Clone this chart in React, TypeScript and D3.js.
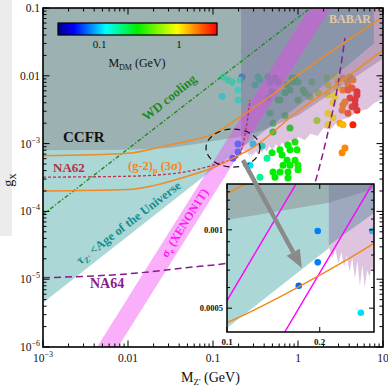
import * as d3 from "d3";

type Pt = [number, number];

// boundaries, as (M_Z' [GeV], g_X)
const tealEdge: Pt[] = [[1e-3, 4.5e-6], [0.1, 4.2e-4], [0.214, 8.5e-4]];
const ccfrEdge: Pt[] = [[1e-3, 8.0e-4], [0.01, 8.1e-4], [0.03, 8.6e-4], [0.07, 1.0e-3], [0.1, 1.09e-3], [0.214, 1.27e-3], [0.4, 1.6e-3], [1, 2.6e-3], [3, 6.5e-3], [10, 0.018]];
const babarEdge: Pt[] = [[0.214, 8.7e-4], [0.3, 1.16e-3], [0.5, 1.9e-3], [1, 3.6e-3], [3, 0.011], [7.8, 0.03]];
const lavEdge: Pt[] = [
    [0.214, 8.6e-4], [0.22, 7.8e-4], [0.225, 8.4e-4], [0.23, 7.4e-4], [0.235, 8.2e-4], [0.24, 7.2e-4],
    [0.245, 8.0e-4], [0.25, 6.9e-4], [0.255, 7.8e-4], [0.26, 6.5e-4], [0.265, 7.6e-4], [0.27, 6.1e-4],
    [0.275, 7.3e-4], [0.28, 6.0e-4], [0.285, 7.0e-4], [0.29, 6.6e-4], [0.295, 7.2e-4], [0.3, 6.8e-4],
    [0.32, 7.8e-4], [0.34, 6.9e-4], [0.36, 8.2e-4], [0.38, 7.2e-4], [0.4, 8.6e-4], [0.43, 7.5e-4],
    [0.46, 9.2e-4], [0.5, 8.0e-4], [0.55, 9.8e-4], [0.6, 8.6e-4], [0.65, 1.05e-3], [0.7, 9.2e-4],
    [0.8, 1.12e-3], [0.9, 1.0e-3], [1.0, 1.25e-3], [1.2, 1.12e-3], [1.4, 1.4e-3], [1.7, 1.3e-3],
    [2.0, 1.7e-3], [2.4, 1.6e-3], [3.0, 2.2e-3], [4.0, 2.4e-3], [5.0, 3.0e-3], [6.5, 3.2e-3],
    [8.0, 4.0e-3], [10, 4.6e-3]
];
const xenonHi: Pt[] = [[1.37e-3, 1e-7], [4.32, 1]];
const xenonLo: Pt[] = [[2.42e-3, 1e-7], [7.65, 1]];
const wdLine: Pt[] = [[1e-3, 9e-5], [1.4, 0.1]];
const gm2Hi: Pt[] = [[1e-3, 6.6e-4], [0.01, 7.2e-4], [0.03, 9.5e-4], [0.07, 1.2e-3], [0.1, 1.38e-3], [0.2, 2.4e-3], [0.5, 5.3e-3], [1, 0.0103], [3, 0.027], [10, 0.074]];
const gm2Lo: Pt[] = [[1e-3, 2.0e-4], [0.01, 2.1e-4], [0.02, 2.4e-4], [0.05, 3.3e-4], [0.1, 4.4e-4], [0.2, 6.7e-4], [0.3, 8.9e-4], [1, 3.0e-3], [3, 7.8e-3], [10, 0.024]];
const na62: Pt[] = [[1e-3, 3.2e-4], [0.01, 3.3e-4], [0.04, 3.7e-4], [0.1, 4.8e-4], [0.15, 5.6e-4], [0.2, 6.5e-4], [0.23, 1.1e-3], [0.255, 2.3e-3], [0.272, 4.4e-3]];
const na64: Pt[] = [[1e-3, 1.05e-5], [0.01, 1.2e-5], [0.07, 1.55e-5], [0.14, 1.7e-5], [0.5, 2.4e-5], [1.0, 5e-5], [1.3, 1.2e-4], [1.58, 2.6e-4], [2.38, 2.0e-3], [2.88, 6.2e-3], [3.57, 0.036]];

// scan points: M_Z', g_X, M_DM
const dots: [number, number, number][] = [
    [0.131, 9.6e-3, 0.15], [0.150, 8.7e-3, 0.15], [0.168, 8.1e-3, 0.15], [0.219, 9.6e-3, 0.065],
    [0.208, 8.7e-3, 0.14], [0.197, 6.2e-3, 0.12], [0.128, 5.0e-3, 0.11], [0.197, 4.4e-3, 0.13],
    [0.338, 9.6e-3, 0.17], [0.357, 8.7e-3, 0.17], [0.312, 7.3e-3, 0.16], [0.443, 9.6e-3, 0.2],
    [0.536, 9.3e-3, 0.2], [0.582, 8.1e-3, 0.22], [0.469, 7.8e-3, 0.17], [0.494, 5.8e-3, 0.2],
    [0.443, 4.7e-3, 0.16], [0.582, 4.4e-3, 0.25], [0.743, 7.3e-3, 0.3], [0.849, 9.3e-3, 0.3],
    [0.922, 9.3e-3, 0.32], [0.873, 8.1e-3, 0.3], [1.0, 8.1e-3, 0.33], [0.805, 6.2e-3, 0.3],
    [0.703, 5.6e-3, 0.3], [0.614, 4.4e-3, 0.3], [1.15, 6.2e-3, 0.35], [1.21, 5.6e-3, 0.38],
    [1.46, 8.1e-3, 0.45], [1.38, 4.9e-3, 0.42], [1.72, 5.6e-3, 0.6], [1.0, 4.4e-3, 0.35],
    [2.19, 9.3e-3, 0.6], [2.25, 7.3e-3, 0.7], [2.72, 9.6e-3, 0.95], [2.96, 8.1e-3, 1.1],
    [3.38, 9.3e-3, 1.4], [3.77, 8.7e-3, 1.5], [4.09, 9.6e-3, 1.6], [4.43, 8.7e-3, 1.6],
    [3.87, 7.3e-3, 1.6], [2.88, 6.8e-3, 0.95], [2.25, 5.2e-3, 0.9], [2.72, 4.9e-3, 0.95],
    [3.38, 6.2e-3, 1.6], [4.32, 6.6e-3, 2.0], [4.94, 5.8e-3, 2.6], [4.09, 4.7e-3, 2.4],
    [4.69, 4.4e-3, 2.6], [3.57, 4.1e-3, 1.6], [2.58, 4.0e-3, 0.95], [3.30, 3.1e-3, 1.6],
    [4.32, 3.5e-3, 2.4], [4.94, 3.1e-3, 2.6], [2.25, 2.8e-3, 0.95], [2.58, 2.4e-3, 0.95],
    [3.12, 2.0e-3, 1.4], [4.43, 1.9e-3, 2.6], [0.703, 2.6e-3, 0.3], [0.469, 2.8e-3, 0.22],
    [0.805, 1.7e-3, 0.3], [0.197, 9.9e-4, 0.075], [0.197, 7.5e-4, 0.075], [0.171, 6.1e-4, 0.07],
    [0.296, 9.9e-4, 0.105], [0.377, 9.2e-4, 0.15], [0.272, 4.8e-4, 0.105], [0.432, 6.1e-4, 0.17],
    [0.357, 3.2e-4, 0.18], [0.508, 2.0e-3, 0.28], [0.508, 1.48e-3, 0.28], [0.494, 7.3e-4, 0.28],
    [0.508, 3.8e-4, 0.3], [0.536, 3.2e-4, 0.3], [0.614, 8.1e-4, 0.3], [0.649, 6.8e-4, 0.3],
    [0.762, 9.5e-4, 0.3], [0.805, 8.1e-4, 0.3], [0.922, 1.06e-3, 0.32], [0.973, 8.1e-4, 0.32],
    [0.743, 5.7e-4, 0.3], [0.922, 5.7e-4, 0.32], [0.667, 4.8e-4, 0.3], [0.805, 4.8e-4, 0.3],
    [1.0, 4.8e-4, 0.33], [0.614, 3.8e-4, 0.3], [0.762, 3.8e-4, 0.3], [0.762, 3.1e-4, 0.3],
    [1.0, 4.1e-4, 0.33], [1.67, 2.2e-3, 0.6], [2.25, 1.9e-3, 0.95], [3.38, 1.9e-3, 1.3],
    [3.57, 8.6e-4, 1.6], [3.30, 7.3e-4, 1.6], [2.72, 5.2e-3, 0.95], [3.38, 3.7e-3, 1.6],
    [3.87, 2.8e-3, 2.0], [4.69, 3.7e-3, 2.6], [4.94, 5.2e-3, 2.6], [3.87, 6.2e-3, 2.0]
];

const xTicks = [1e-3, 0.01, 0.1, 1, 10];
const xTickLabels = ["10^-3", "0.01", "0.1", "1", "10"];
const yTicks = [1e-6, 1e-5, 1e-4, 1e-3, 0.01, 0.1];
const yTickLabels = ["10^-6", "10^-5", "10^-4", "10^-3", "0.01", "0.1"];
const cbDomain = [0.03, 3];
const cbTicks = [0.1, 1];
const cbTickLabels = ["0.1", "1"];
const insetXTicks = [0.1, 0.2];
const insetXLabels = ["0.1", "0.2"];
const insetYTicks = [5e-4, 1e-3];
const insetYLabels = ["0.0005", "0.001"];
const insetYMinor = [5e-4, 6e-4, 7e-4, 8e-4, 9e-4, 1e-3, 1.1e-3, 1.2e-3, 1.3e-3, 1.4e-3];
// zoom annotation
const zoomCenter: Pt = [0.172, 8.6e-4];
const zoomArrow: Pt[] = [[0.225, 5.7e-4], [1.11, 1.46e-5]];

const F = "'Liberation Serif', 'DejaVu Serif', serif";

const cmap = d3.scaleLinear<string>()
    .domain([0, 0.1, 0.3, 0.5, 0.75, 0.9, 1])
    .range(["#00008b", "#0000ff", "#00ffff", "#00ee00", "#ffff00", "#ff6000", "#ff0000"]);
const cpos = d3.scaleLog().domain(cbDomain).range([0, 1]).clamp(true);
const dmColor = (m: number) => cmap(cpos(m));

const isPow10 = (v: number) => Math.abs(Math.log10(v) - Math.round(Math.log10(v))) < 1e-6;
const closeTop = (edge: Pt[]): Pt[] => [...edge, [edge[edge.length - 1][0], 1], [edge[0][0], 1]];

const Pow = ({ label }: { label: string }) => {
    if (!label.startsWith("10^")) return <>{label}</>;
    return <>10<tspan dy={-5} fontSize={8}>{"\u2212" + label.slice(4)}</tspan></>;
};

interface LayerProps {
    sx: d3.ScaleLogarithmic<number, number>;
    sy: d3.ScaleLogarithmic<number, number>;
    inset?: boolean;
}

// shaded regions, points and curves; shared by the main panel and the zoom
function Layers({ sx, sy, inset = false }: LayerProps) {
    const line = d3.line<Pt>().x(d => sx(d[0])).y(d => sy(d[1]));
    const smooth = d3.line<Pt>().x(d => sx(d[0])).y(d => sy(d[1])).curve(d3.curveMonotoneX);
    const band = [...xenonHi, ...[...xenonLo].reverse()];
    const r = inset ? 3.3 : 3.5;
    return (
        <g>
            <path d={line(closeTop(tealEdge)) + "Z"} fill="#abd7d7" />
            {dots.map((d, i) => (
                <circle key={i} cx={sx(d[0])} cy={sy(d[1])} r={r} fill={dmColor(d[2])} />
            ))}
            <path d={line(closeTop(ccfrEdge)) + "Z"} fill="#8e8e8e" fillOpacity={0.5} />
            <path d={line(closeTop(lavEdge)) + "Z"} fill="#a864ac" fillOpacity={0.38} />
            <path d={line(closeTop(babarEdge)) + "Z"} fill="#4f8896" fillOpacity={0.45} />
            {inset ? (
                <>
                    <path d={line(xenonHi) ?? ""} fill="none" stroke="#ff00ff" strokeWidth={1.4} />
                    <path d={line(xenonLo) ?? ""} fill="none" stroke="#ff00ff" strokeWidth={1.4} />
                </>
            ) : (
                <path d={line(band) + "Z"} fill="#f040f0" fillOpacity={0.42} />
            )}
            {!inset && (
                <>
                    <path d={line(wdLine) ?? ""} fill="none" stroke="#1f8a1f" strokeWidth={1.4} strokeDasharray="4,2,1.2,2" />
                    <path d={smooth(na62) ?? ""} fill="none" stroke="#c0304a" strokeWidth={1.3} strokeDasharray="3,2" />
                    <path d={smooth(na64) ?? ""} fill="none" stroke="#8b1a8b" strokeWidth={1.5} strokeDasharray="7,4" />
                </>
            )}
            <path d={smooth(gm2Hi) ?? ""} fill="none" stroke="#f08a22" strokeWidth={1.5} />
            <path d={smooth(gm2Lo) ?? ""} fill="none" stroke="#f08a22" strokeWidth={1.5} />
        </g>
    );
}

export default function App() {
    const W = 388, H = 386;
    const x = d3.scaleLog().domain([1e-3, 10]).range([43, 383]);
    const y = d3.scaleLog().domain([1e-6, 0.1]).range([347, 8]);
    const xi = d3.scaleLog().domain([0.1, 0.3]).range([227, 374]);
    const yi = d3.scaleLog().domain([4.05e-4, 1.5e-3]).range([332, 184]);
    const cbx = d3.scaleLog().domain(cbDomain).range([58, 217]);

    const [x0, x1] = x.range();
    const [y0, y1] = y.range(); // bottom, top
    const [ix0, ix1] = xi.range();
    const [iy0, iy1] = yi.range();

    // arrow geometry
    const a0 = [x(zoomArrow[0][0]), y(zoomArrow[0][1])];
    const a1 = [x(zoomArrow[1][0]), y(zoomArrow[1][1])];
    const len = Math.hypot(a1[0] - a0[0], a1[1] - a0[1]);
    const ux = (a1[0] - a0[0]) / len, uy = (a1[1] - a0[1]) / len;
    const hb = [a1[0] - ux * 18, a1[1] - uy * 18];
    const head = `${a1[0]},${a1[1]} ${hb[0] - uy * 7.5},${hb[1] + ux * 7.5} ${hb[0] + uy * 7.5},${hb[1] - ux * 7.5}`;

    const stops = d3.range(0, 1.0001, 0.05);

    return (
        <svg width={W} height={H} fontFamily={F}
             style={{ position: "absolute", left: 0, top: 0, background: "#fff" }}>
            <defs>
                <clipPath id="mainClip"><rect x={x0} y={y1} width={x1 - x0} height={y0 - y1} /></clipPath>
                <clipPath id="insetClip"><rect x={ix0} y={iy1} width={ix1 - ix0} height={iy0 - iy1} /></clipPath>
                <linearGradient id="cbGrad" x1="0" x2="1" y1="0" y2="0">
                    {stops.map(s => <stop key={s} offset={s} stopColor={cmap(s)} />)}
                </linearGradient>
            </defs>

            <rect x={0} y={0} width={12} height={236} fill="#ececec" />

            <g clipPath="url(#mainClip)">
                <rect x={x0} y={y1} width={x1 - x0} height={y0 - y1} fill="#fff" />
                <Layers sx={x} sy={y} />
            </g>

            {/* labels on the main panel */}
            <text x={350} y={23} textAnchor="middle" fontSize={12} fontWeight="bold" fill="#e6c9a0">BABAR</text>
            <text transform="translate(172,101) rotate(-39)" textAnchor="middle" fontSize={13} fontWeight="bold" fill="#1f8a1f">WD cooling</text>
            <text x={63} y={142} fontSize={15} fontWeight="bold" fill="#111">CCFR</text>
            <text x={53} y={172} fontSize={13} fontWeight="bold" fill="#b8303f">NA62</text>
            <text x={128} y={170} fontSize={12.5} fontWeight="bold" fill="#f08a22">
                (g-2)<tspan fontSize={8} dy={3}>μ</tspan><tspan dy={-3}> (3σ)</tspan>
            </text>
            <text transform="translate(131,226) rotate(-37.5)" textAnchor="middle" fontSize={12.5} fontWeight="bold" fill="#168f8f">
                τ<tspan fontSize={8} dy={3}>Z'</tspan><tspan dy={-3}> &lt;Age of the Universe</tspan>
            </text>
            <text transform="translate(188,225) rotate(-58)" textAnchor="middle" fontSize={12} fontWeight="bold" fill="#ff1aff">
                σ<tspan fontSize={8} dy={3}>e</tspan><tspan dy={-3}> (XENON1T)</tspan>
            </text>
            <text x={90} y={288} fontSize={14} fontWeight="bold" fill="#8b1a8b">NA64</text>

            {/* colour bar */}
            <rect x={cbx.range()[0]} y={23} width={cbx.range()[1] - cbx.range()[0]} height={12} fill="url(#cbGrad)" stroke="#000" strokeWidth={1.2} />
            {cbTicks.map((t, i) => (
                <text key={t} x={cbx(t)} y={48} textAnchor="middle" fontSize={11} fill="#111">{cbTickLabels[i]}</text>
            ))}
            <text x={137} y={67} textAnchor="middle" fontSize={12} fill="#111">
                M<tspan fontSize={8} dy={3}>DM</tspan><tspan dy={-3}> (GeV)</tspan>
            </text>

            {/* main frame and ticks */}
            <rect x={x0} y={y1} width={x1 - x0} height={y0 - y1} fill="none" stroke="#000" strokeWidth={1.6} />
            {x.ticks().map(v => {
                const l = isPow10(v) ? 6.5 : 3.5;
                return (
                    <g key={"xt" + v} stroke="#000" strokeWidth={1}>
                        <line x1={x(v)} x2={x(v)} y1={y0} y2={y0 - l} />
                        <line x1={x(v)} x2={x(v)} y1={y1} y2={y1 + l} />
                    </g>
                );
            })}
            {y.ticks().map(v => {
                const l = isPow10(v) ? 6.5 : 3.5;
                return (
                    <g key={"yt" + v} stroke="#000" strokeWidth={1}>
                        <line x1={x0} x2={x0 + l} y1={y(v)} y2={y(v)} />
                        <line x1={x1} x2={x1 - l} y1={y(v)} y2={y(v)} />
                    </g>
                );
            })}
            {xTicks.map((t, i) => (
                <text key={"xl" + t} x={x(t)} y={362} textAnchor="middle" fontSize={11.5} fill="#111">
                    <Pow label={xTickLabels[i]} />
                </text>
            ))}
            {yTicks.map((t, i) => (
                <text key={"yl" + t} x={40} y={y(t) + 4} textAnchor="end" fontSize={11.5} fill="#111">
                    <Pow label={yTickLabels[i]} />
                </text>
            ))}
            <text x={181} y={382} fontSize={14} fill="#111">
                M<tspan fontSize={9} dy={3}>Z'</tspan><tspan dy={-3}> (GeV)</tspan>
            </text>
            <text transform="translate(13,180) rotate(-90)" textAnchor="middle" fontSize={14} fill="#111">
                g<tspan fontSize={9} dy={3}>X</tspan>
            </text>

            {/* zoomed inset */}
            <g clipPath="url(#insetClip)">
                <rect x={ix0} y={iy1} width={ix1 - ix0} height={iy0 - iy1} fill="#fff" />
                <Layers sx={xi} sy={yi} inset />
            </g>
            <rect x={ix0} y={iy1} width={ix1 - ix0} height={iy0 - iy1} fill="none" stroke="#000" strokeWidth={1.5} />
            {insetYMinor.map(v => {
                const l = insetYTicks.includes(v) ? 5 : 3;
                return (
                    <g key={"iy" + v} stroke="#000" strokeWidth={1}>
                        <line x1={ix0} x2={ix0 + l} y1={yi(v)} y2={yi(v)} />
                        <line x1={ix1} x2={ix1 - l} y1={yi(v)} y2={yi(v)} />
                    </g>
                );
            })}
            {insetXTicks.map(v => (
                <g key={"ix" + v} stroke="#000" strokeWidth={1}>
                    <line x1={xi(v)} x2={xi(v)} y1={iy1} y2={iy1 + 5} />
                    <line x1={xi(v)} x2={xi(v)} y1={iy0} y2={iy0 - 5} />
                </g>
            ))}
            {insetXTicks.map((t, i) => (
                <text key={"ixl" + t} x={xi(t)} y={345} textAnchor="middle" fontSize={9} fontWeight="bold" fill="#111">{insetXLabels[i]}</text>
            ))}
            {insetYTicks.map((t, i) => (
                <text key={"iyl" + t} x={223} y={yi(t) + 3} textAnchor="end" fontSize={8.5} fontWeight="bold" fill="#111">{insetYLabels[i]}</text>
            ))}

            {/* zoom marker */}
            <ellipse cx={x(zoomCenter[0])} cy={y(zoomCenter[1])} rx={27} ry={19} fill="none" stroke="#111" strokeWidth={1.2} strokeDasharray="6,4" />
            <line x1={a0[0]} y1={a0[1]} x2={hb[0]} y2={hb[1]} stroke="#8a8a8a" strokeWidth={4.5} />
            <polygon points={head} fill="#8a8a8a" />
        </svg>
    );
}
